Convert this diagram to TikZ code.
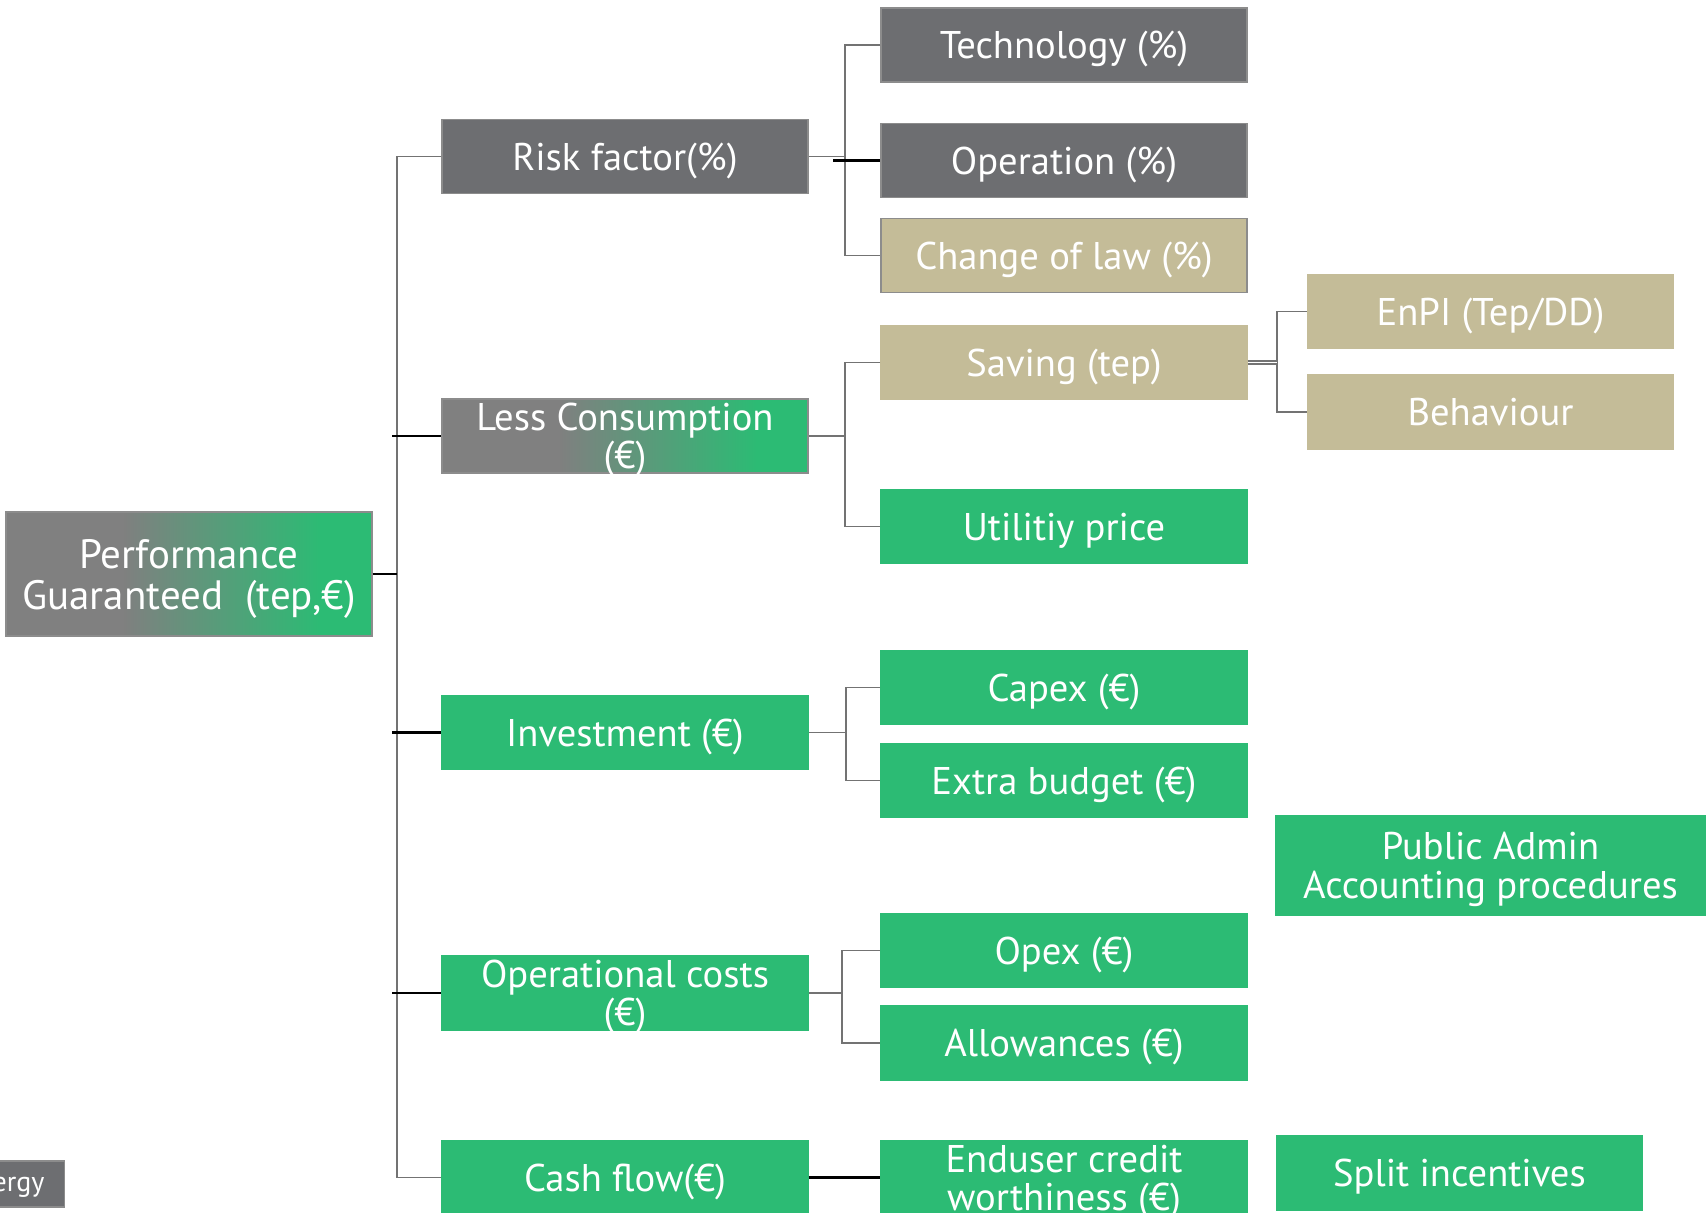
\documentclass[tikz,border=0pt]{standalone}
\usepackage{fontspec}
\setmainfont{PT Sans}

\newlength{\du}
\setlength{\du}{0.5pt}

\definecolor{boxgray}{rgb}{0.427, 0.431, 0.443}
\definecolor{fadegray}{rgb}{0.500, 0.500, 0.500}
\definecolor{boxgreen}{rgb}{0.173, 0.733, 0.455}
\definecolor{boxtan}{rgb}{0.769, 0.737, 0.596}
\definecolor{edgegray}{rgb}{0.550, 0.550, 0.550}
\definecolor{linegray}{rgb}{0.450, 0.450, 0.450}
\pgfdeclarehorizontalshading{graytogreen}{100bp}{color(0bp)=(fadegray); color(41bp)=(fadegray); color(68bp)=(boxgreen); color(100bp)=(boxgreen)}

\begin{document}
\begin{tikzpicture}[yscale=-1,
  box/.style={draw=edgegray, line width=1.2\du, text=white, align=center, inner sep=0pt, text depth=0pt,
    font=\fontsize{19.3}{19}\selectfont, minimum width=366\du, minimum height=74\du},
  graybox/.style={box, fill=boxgray},
  tanbox/.style={box, fill=boxtan},
  greenbox/.style={box, fill=boxgreen, draw=boxgreen},
  fadebox/.style={box, shading=graytogreen},
  link/.style={draw=linegray, line width=1.6\du},
  tick/.style={draw=black, line width=2.4\du}]
\useasboundingbox (0,0) rectangle (1708\du,1213\du);

% root
\node[fadebox, minimum height=124\du, font=\fontsize{20.5}{20.5}\selectfont] (perf) at (189\du,574\du) {Performance\\Guaranteed\ \ (tep,€)};

% second column
\node[graybox] (risk) at (625\du,156.5\du) {Risk factor(\%)};
\node[fadebox] (less) at (625\du,436\du) {Less Consumption\\(€)};
\node[greenbox] (invest) at (625\du,732.5\du) {Investment (€)};
\node[greenbox] (opcost) at (625\du,993\du) {Operational costs\\(€)};
\node[greenbox] (cash) at (625\du,1177.5\du) {Cash flow(€)};

% third column
\node[graybox] (tech) at (1064\du,45\du) {Technology (\%)};
\node[graybox] (oper) at (1064\du,160.5\du) {Operation (\%)};
\node[tanbox] (law) at (1064\du,255.5\du) {Change of law (\%)};
\node[tanbox, draw=boxtan] (saving) at (1064\du,362.5\du) {Saving (tep)};
\node[greenbox] (utility) at (1064\du,526.5\du) {Utilitiy price};
\node[greenbox] (capex) at (1064\du,687.5\du) {Capex (€)};
\node[greenbox] (extra) at (1064\du,780.5\du) {Extra budget (€)};
\node[greenbox] (opex) at (1064\du,950.5\du) {Opex (€)};
\node[greenbox] (allow) at (1064\du,1043\du) {Allowances (€)};
\node[greenbox] (credit) at (1064\du,1177.5\du) {Enduser credit\\worthiness (€)};

% fourth column
\node[tanbox, draw=boxtan] (enpi) at (1490.5\du,311.5\du) {EnPI (Tep/DD)};
\node[tanbox, draw=boxtan] (behav) at (1490.5\du,412\du) {Behaviour};
\node[greenbox, minimum width=429\du, minimum height=99\du, font=\fontsize{19.3}{19.5}\selectfont] (admin) at (1490.5\du,865.5\du) {Public Admin\\Accounting procedures};
\node[greenbox] (split) at (1459.5\du,1173\du) {Split incentives};
\node[graybox, anchor=east, minimum width=0pt, inner xsep=10pt, minimum height=46\du, font=\fontsize{14}{14}\selectfont] (ergy) at (65\du,1184\du) {ergy};

% connectors
\coordinate (tx) at (397\du,0);
\coordinate (rx) at (845\du,0);
\coordinate (lx) at (845\du,0);
\coordinate (ix) at (846\du,0);
\coordinate (ox) at (842\du,0);
\coordinate (sx) at (1277\du,0);

\draw[link] (risk.west) -- (risk.west -| tx) -- (cash.west -| tx) -- (cash.west);
\draw[tick] (perf.east) -- (perf.east -| tx);
\draw[tick] ([xshift=-5\du]less.west -| tx) -- (less.west);
\draw[tick] ([xshift=-5\du]invest.west -| tx) -- (invest.west);
\draw[tick] ([xshift=-5\du]opcost.west -| tx) -- (opcost.west);

\draw[link] (tech.west) -- (tech.west -| rx) -- (law.west -| rx) -- (law.west);
\draw[link] (risk.east) -- (risk.east -| rx);
\draw[tick] ([xshift=-12\du]oper.west -| rx) -- (oper.west);

\draw[link] (saving.west) -- (saving.west -| lx) -- (utility.west -| lx) -- (utility.west);
\draw[link] (less.east) -- (less.east -| lx);

\draw[link] (capex.west) -- (capex.west -| ix) -- (extra.west -| ix) -- (extra.west);
\draw[link] (invest.east) -- (invest.east -| ix);

\draw[link] (opex.west) -- (opex.west -| ox) -- (allow.west -| ox) -- (allow.west);
\draw[link] (opcost.east) -- (opcost.east -| ox);

\draw[tick] (cash.east) -- (credit.west);

\draw[link] (enpi.west) -- (enpi.west -| sx) -- (behav.west -| sx) -- (behav.west);
\draw[link, double, double distance=1.5\du] (saving.east) -- (saving.east -| sx);
\end{tikzpicture}
\end{document}
